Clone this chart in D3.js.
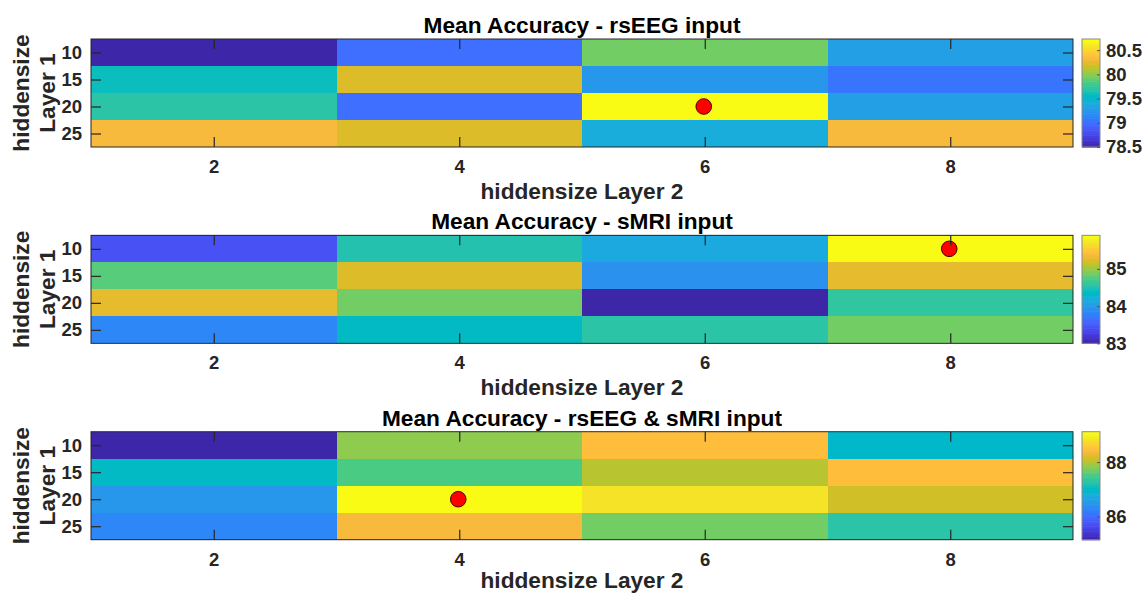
<!DOCTYPE html>
<html>
<head>
<meta charset="utf-8">
<script src="https://cdn.jsdelivr.net/npm/d3@7"></script>
<style>
  html, body { margin: 0; padding: 0; background: #fff; }
  svg { display: block; font-family: "Liberation Sans", Arial, sans-serif; font-weight: bold; }
</style>
</head>
<body>
<svg id="chart" width="1143" height="594"></svg>
<script>
// Grid axes
const layer1Sizes = [10, 15, 20, 25];   // rows (hidden size of layer 1)
const layer2Sizes = [2, 4, 6, 8];       // columns (hidden size of layer 2)

// Mean accuracy (%) per grid cell, one row per layer-1 size
const accEEG = [
  [78.50, 79.01, 79.93, 79.32],
  [79.60, 80.23, 79.25, 79.04],
  [79.71, 79.00, 80.73, 79.33],
  [80.33, 80.22, 79.41, 80.33]
];
const accMRI = [
  [83.45, 84.52, 84.16, 85.90],
  [84.79, 85.24, 83.93, 85.29],
  [85.30, 84.88, 83.00, 84.59],
  [83.86, 84.36, 84.56, 84.88]
];
const accBoth = [
  [85.14, 87.85, 88.47, 87.00],
  [87.04, 87.53, 88.06, 88.47],
  [86.50, 89.12, 88.81, 88.17],
  [86.26, 88.41, 87.70, 87.26]
];

const panelTitles = [
  "Mean Accuracy - rsEEG input",
  "Mean Accuracy - sMRI input",
  "Mean Accuracy - rsEEG & sMRI input"
];
const xLabel = "hiddensize Layer 2";
const yLabelLines = ["hiddensize", "Layer 1"];

// Colour bar tick values
const cbTicksEEG = [78.5, 79, 79.5, 80, 80.5];
const cbTicksMRI = [83, 84, 85];
const cbTicksBoth = [86, 88];

// 64-step parula colour map
const parula = [
[0.2422,0.1504,0.6603],[0.2504,0.1650,0.7076],[0.2578,0.1818,0.7511],[0.2647,0.1978,0.7952],
[0.2706,0.2147,0.8364],[0.2751,0.2342,0.8710],[0.2783,0.2559,0.8991],[0.2803,0.2782,0.9221],
[0.2813,0.3006,0.9414],[0.2810,0.3228,0.9579],[0.2795,0.3447,0.9717],[0.2760,0.3667,0.9829],
[0.2699,0.3892,0.9906],[0.2602,0.4123,0.9952],[0.2440,0.4358,0.9988],[0.2206,0.4603,0.9973],
[0.1963,0.4847,0.9892],[0.1834,0.5074,0.9798],[0.1786,0.5289,0.9682],[0.1764,0.5499,0.9520],
[0.1687,0.5703,0.9359],[0.1540,0.5902,0.9218],[0.1460,0.6091,0.9079],[0.1380,0.6276,0.8973],
[0.1248,0.6459,0.8883],[0.1113,0.6635,0.8763],[0.0952,0.6798,0.8598],[0.0689,0.6948,0.8394],
[0.0297,0.7082,0.8163],[0.0036,0.7203,0.7917],[0.0067,0.7312,0.7660],[0.0433,0.7411,0.7394],
[0.0964,0.7500,0.7120],[0.1408,0.7584,0.6842],[0.1717,0.7670,0.6554],[0.1938,0.7758,0.6251],
[0.2161,0.7843,0.5923],[0.2470,0.7918,0.5567],[0.2906,0.7973,0.5188],[0.3406,0.8008,0.4789],
[0.3909,0.8029,0.4354],[0.4456,0.8024,0.3909],[0.5044,0.7993,0.3480],[0.5616,0.7942,0.3045],
[0.6174,0.7876,0.2612],[0.6720,0.7793,0.2227],[0.7242,0.7698,0.1910],[0.7738,0.7598,0.1646],
[0.8203,0.7498,0.1535],[0.8634,0.7406,0.1596],[0.9035,0.7330,0.1774],[0.9393,0.7288,0.2100],
[0.9728,0.7298,0.2394],[0.9956,0.7434,0.2371],[0.9970,0.7659,0.2199],[0.9952,0.7893,0.2028],
[0.9892,0.8136,0.1885],[0.9786,0.8386,0.1766],[0.9676,0.8639,0.1643],[0.9610,0.8890,0.1537],
[0.9597,0.9135,0.1423],[0.9628,0.9373,0.1265],[0.9691,0.9606,0.1064],[0.9769,0.9839,0.0805]
].map(c => d3.rgb(c[0] * 255, c[1] * 255, c[2] * 255).formatHex());

const panels = [
  { title: panelTitles[0], data: accEEG, cbTicks: cbTicksEEG },
  { title: panelTitles[1], data: accMRI, cbTicks: cbTicksMRI },
  { title: panelTitles[2], data: accBoth, cbTicks: cbTicksBoth }
];

const svg = d3.select("#chart");
const W = 1143, H = 594;
const plotLeft = 91, plotRight = 1073, plotH = 108;
const panelTop0 = 39, panelStep = 196.35;
const cbLeft = 1082, cbW = 18;
const ink = "#262626";

const x = d3.scaleLinear().domain([1, 9]).range([plotLeft, plotRight]);

panels.forEach((p, i) => {
  const top = panelTop0 + i * panelStep;
  const bottom = top + plotH;
  const y = d3.scaleLinear().domain([7.5, 27.5]).range([top, bottom]);

  const flat = p.data.flat();
  const [vMin, vMax] = d3.extent(flat);
  const color = d3.scaleQuantize().domain([vMin, vMax]).range(parula);

  const g = svg.append("g");

  // heat-map cells
  const cells = [];
  p.data.forEach((row, r) => row.forEach((v, c) => cells.push({ r: layer1Sizes[r], c: layer2Sizes[c], v })));
  g.selectAll("rect.cell").data(cells).join("rect")
    .attr("class", "cell")
    .attr("x", d => x(d.c - 1))
    .attr("y", d => y(d.r - 2.5))
    .attr("width", d => x(d.c + 1) - x(d.c - 1))
    .attr("height", d => y(d.r + 2.5) - y(d.r - 2.5))
    .attr("fill", d => color(d.v))
    .attr("shape-rendering", "crispEdges");

  // marker on best cell
  const best = cells.reduce((a, b) => (b.v > a.v ? b : a));
  g.append("circle")
    .attr("cx", x(best.c) - 1)
    .attr("cy", y(best.r))
    .attr("r", 7.8)
    .attr("fill", "#ff0000")
    .attr("stroke", "#4a0000")
    .attr("stroke-width", 1);

  // axes with inward ticks
  const styleAxis = sel => {
    sel.select(".domain").remove();
    sel.selectAll(".tick line").attr("stroke", ink).attr("stroke-width", 1.2);
    sel.selectAll(".tick text").attr("fill", ink).style("font-size", "18.5px").style("font-weight", "bold");
  };
  g.append("g").attr("transform", `translate(0,${bottom})`)
    .call(d3.axisBottom(x).tickValues(layer2Sizes).tickSizeInner(-10).tickSizeOuter(0).tickPadding(13))
    .call(styleAxis);
  g.append("g").attr("transform", `translate(0,${top})`)
    .call(d3.axisTop(x).tickValues(layer2Sizes).tickSizeInner(-10).tickSizeOuter(0).tickFormat(""))
    .call(styleAxis);
  g.append("g").attr("transform", `translate(${plotLeft},0)`)
    .call(d3.axisLeft(y).tickValues(layer1Sizes).tickSizeInner(-10).tickSizeOuter(0).tickPadding(9))
    .call(styleAxis);
  g.append("g").attr("transform", `translate(${plotRight},0)`)
    .call(d3.axisRight(y).tickValues(layer1Sizes).tickSizeInner(-10).tickSizeOuter(0).tickFormat(""))
    .call(styleAxis);

  // plot frame
  g.append("rect")
    .attr("x", plotLeft).attr("y", top)
    .attr("width", plotRight - plotLeft).attr("height", plotH)
    .attr("fill", "none").attr("stroke", ink).attr("stroke-width", 1);

  // title
  g.append("text")
    .attr("x", (plotLeft + plotRight) / 2).attr("y", top - 6)
    .attr("text-anchor", "middle").attr("fill", "#000")
    .style("font-size", "22.7px")
    .text(p.title);

  // x-axis label (kept inside the canvas for the last panel)
  g.append("text")
    .attr("x", (plotLeft + plotRight) / 2).attr("y", Math.min(bottom + 52, H - 6))
    .attr("text-anchor", "middle").attr("fill", ink)
    .style("font-size", "22.7px")
    .text(xLabel);

  // y-axis label (two lines)
  const yMid = (top + bottom) / 2;
  yLabelLines.forEach((line, k) => {
    g.append("text")
      .attr("transform", `translate(${28.5 + k * 26},${yMid}) rotate(-90)`)
      .attr("text-anchor", "middle").attr("fill", ink)
      .style("font-size", "22.7px")
      .text(line);
  });

  // colour bar
  const cb = d3.scaleLinear().domain([vMin, vMax]).range([bottom, top]);
  const stepV = (vMax - vMin) / parula.length;
  g.selectAll("rect.cb").data(parula).join("rect")
    .attr("class", "cb")
    .attr("x", cbLeft).attr("width", cbW)
    .attr("y", (c, k) => cb(vMin + (k + 1) * stepV))
    .attr("height", (c, k) => cb(vMin + k * stepV) - cb(vMin + (k + 1) * stepV) + 0.6)
    .attr("fill", c => c);
  g.append("rect")
    .attr("x", cbLeft).attr("y", top).attr("width", cbW).attr("height", plotH)
    .attr("fill", "none").attr("stroke", "#8a8a8a").attr("stroke-width", 1);
  g.append("g").attr("transform", `translate(${cbLeft + cbW},0)`)
    .call(d3.axisRight(cb).tickValues(p.cbTicks).tickFormat(d3.format("")).tickSizeInner(-3).tickSizeOuter(0).tickPadding(6))
    .call(sel => {
      sel.select(".domain").remove();
      sel.selectAll(".tick line").attr("stroke", "#555").attr("stroke-width", 1);
      sel.selectAll(".tick text").attr("fill", ink).style("font-size", "18.5px").style("font-weight", "bold");
    });
});
</script>
</body>
</html>
